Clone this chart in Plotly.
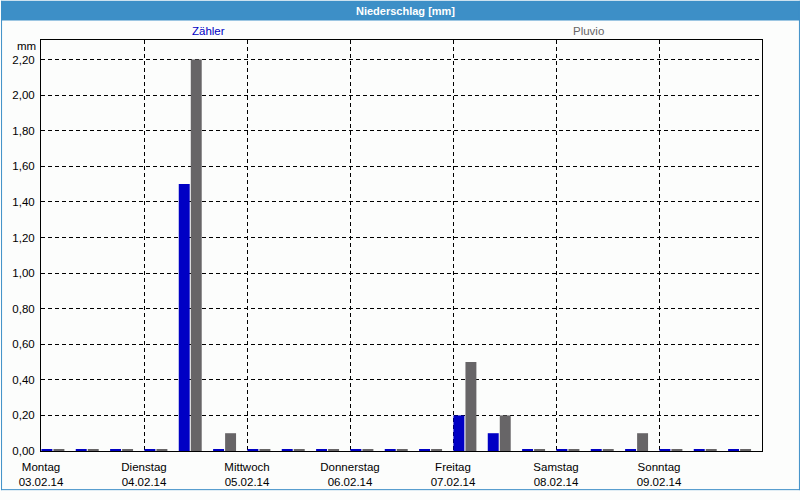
import plotly.graph_objects as go

# 8-hour intervals from Mon 03.02.14 00:00 to Sun 09.02.14 24:00 (21 intervals)
zaehler = [0, 0, 0, 0, 1.50, 0, 0, 0, 0, 0, 0, 0, 0.20, 0.10, 0, 0, 0, 0, 0, 0, 0]
pluvio  = [0, 0, 0, 0, 2.20, 0.10, 0, 0, 0, 0, 0, 0, 0.50, 0.20, 0, 0, 0, 0.10, 0, 0, 0]
weekdays = ["Montag", "Dienstag", "Mittwoch", "Donnerstag", "Freitag", "Samstag", "Sonntag"]
dates = ["03.02.14", "04.02.14", "05.02.14", "06.02.14", "07.02.14", "08.02.14", "09.02.14"]
y_ticks = [0.0, 0.2, 0.4, 0.6, 0.8, 1.0, 1.2, 1.4, 1.6, 1.8, 2.0, 2.2]

INTERVAL_H = 8
x_start = [i * INTERVAL_H for i in range(len(zaehler))]
STUB = 0.01  # zero values are drawn as a thin stub at the baseline


def shown(vals):
    return [v if v > 0 else STUB for v in vals]


BLUE = "#0000c4"
GRAY = "#676567"
FRAME = "#3d8fc7"
FONT = "Liberation Sans"
FS = 11.5

fig = go.Figure()
fig.add_trace(go.Bar(x=x_start, y=shown(zaehler), name="Zähler", marker_color=BLUE,
                     marker_line_width=0, offset=0.1, width=2.55, customdata=zaehler,
                     hovertemplate="%{customdata}<extra>Zähler</extra>"))
fig.add_trace(go.Bar(x=x_start, y=shown(pluvio), name="Pluvio", marker_color=GRAY,
                     marker_line_width=0, offset=2.9, width=2.55, customdata=pluvio,
                     hovertemplate="%{customdata}<extra>Pluvio</extra>"))

n_hours = len(zaehler) * INTERVAL_H
fig.update_layout(
    width=800, height=500,
    margin=dict(l=40, r=38, t=40, b=40),
    paper_bgcolor="#fcfdfc", plot_bgcolor="#fcfdfc",
    barmode="overlay", showlegend=False,
    separators=",.",
    font=dict(family=FONT, size=FS, color="#000000"),
    xaxis=dict(range=[0, n_hours], tickmode="array",
               tickvals=[d * 24 for d in range(len(weekdays))],
               ticktext=[f"{w}<br>{d}" for w, d in zip(weekdays, dates)],
               showgrid=True, gridcolor="#000000", gridwidth=1, griddash="4px,3px",
               showline=True, linecolor="#000000", linewidth=1, mirror=True,
               ticks="", zeroline=False, tickfont=dict(size=FS), ticklabelstandoff=5),
    yaxis=dict(range=[0, 2.31], tickmode="array", tickvals=y_ticks, tickformat=".2f",
               showgrid=True, gridcolor="#000000", gridwidth=1, griddash="4px,3px",
               showline=True, linecolor="#000000", linewidth=1, mirror=True,
               ticks="", zeroline=False, tickfont=dict(size=FS), ticklabelstandoff=3),
)

W, H = 722, 420
def px(x):
    return (x - 40) / W
def py(y):
    return (460 - y) / H

shapes = [
    dict(type="rect", xref="paper", yref="paper", x0=px(0), x1=px(800), y0=py(20), y1=py(0),
         fillcolor=FRAME, line_width=0, layer="above"),
    dict(type="line", xref="paper", yref="paper", x0=px(0.5), x1=px(0.5), y0=py(500), y1=py(0),
         line=dict(color=FRAME, width=1)),
    dict(type="line", xref="paper", yref="paper", x0=px(799.5), x1=px(799.5), y0=py(500), y1=py(0),
         line=dict(color=FRAME, width=1)),
    dict(type="line", xref="paper", yref="paper", x0=px(0), x1=px(800), y0=py(499.5), y1=py(499.5),
         line=dict(color=FRAME, width=1)),
]
fig.update_layout(shapes=shapes)

fig.add_annotation(text="<b>Niederschlag [mm]</b>", xref="paper", yref="paper",
                   x=px(405), y=py(10), showarrow=False, xanchor="center", yanchor="middle",
                   font=dict(family=FONT, size=11, color="#ffffff"))
fig.add_annotation(text="Zähler", xref="paper", yref="paper", x=px(208), y=py(31),
                   showarrow=False, xanchor="center", yanchor="middle",
                   font=dict(family=FONT, size=FS, color=BLUE))
fig.add_annotation(text="Pluvio", xref="paper", yref="paper", x=px(588), y=py(31),
                   showarrow=False, xanchor="center", yanchor="middle",
                   font=dict(family=FONT, size=FS, color=GRAY))
fig.add_annotation(text="mm", xref="paper", yref="paper", x=px(37), y=py(46),
                   showarrow=False, xanchor="right", yanchor="middle",
                   font=dict(family=FONT, size=FS, color="#000000"))

fig.write_html("out.html")
